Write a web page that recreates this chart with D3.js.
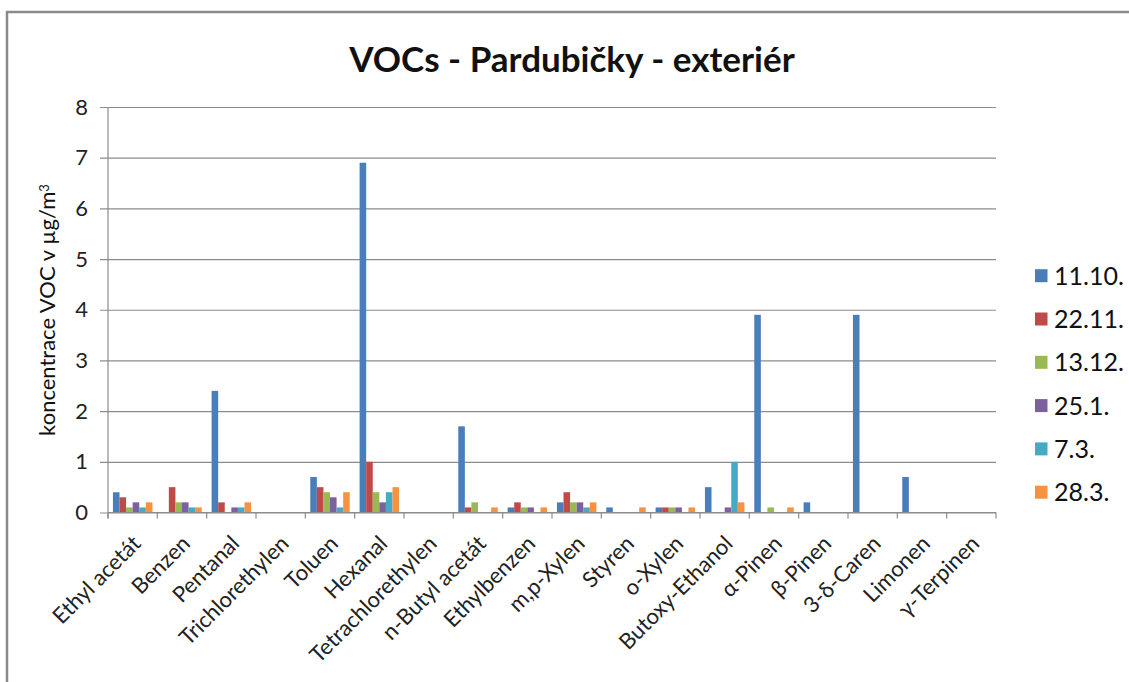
<!DOCTYPE html>
<html>
<head>
<meta charset="utf-8">
<script src="https://cdn.jsdelivr.net/npm/d3@7"></script>
<style>
  html, body { margin: 0; padding: 0; background: #fff; }
  svg { display: block; font-family: Lato, "Open Sans", sans-serif; }
</style>
</head>
<body>
<svg id="chart" width="1129" height="682"></svg>
<script>
// Compounds on the x axis
const categories = [
  "Ethyl acetát", "Benzen", "Pentanal", "Trichlorethylen", "Toluen", "Hexanal",
  "Tetrachlorethylen", "n-Butyl acetát", "Ethylbenzen", "m,p-Xylen", "Styren",
  "o-Xylen", "Butoxy-Ethanol", "α-Pinen", "β-Pinen", "3-δ-Caren", "Limonen", "γ-Terpinen"
];

// Sampling dates (legend)
const seriesNames = ["11.10.", "22.11.", "13.12.", "25.1.", "7.3.", "28.3."];

// Concentrations in µg/m³ per sampling date, in category order
const s1110 = [0.4, 0, 2.4, 0, 0.7, 6.9, 0, 1.7, 0.1, 0.2, 0.1, 0.1, 0.5, 3.9, 0.2, 3.9, 0.7, 0];
const s2211 = [0.3, 0.5, 0.2, 0, 0.5, 1.0, 0, 0.1, 0.2, 0.4, 0, 0.1, 0, 0, 0, 0, 0, 0];
const s1312 = [0.1, 0.2, 0, 0, 0.4, 0.4, 0, 0.2, 0.1, 0.2, 0, 0.1, 0, 0.1, 0, 0, 0, 0];
const s251  = [0.2, 0.2, 0.1, 0, 0.3, 0.2, 0, 0, 0.1, 0.2, 0, 0.1, 0.1, 0, 0, 0, 0, 0];
const s73   = [0.1, 0.1, 0.1, 0, 0.1, 0.4, 0, 0, 0, 0.1, 0, 0, 1.0, 0, 0, 0, 0, 0];
const s283  = [0.2, 0.1, 0.2, 0, 0.4, 0.5, 0, 0.1, 0.1, 0.2, 0.1, 0.1, 0.2, 0.1, 0, 0, 0, 0];
const seriesValues = [s1110, s2211, s1312, s251, s73, s283];

const yTicks = [0, 1, 2, 3, 4, 5, 6, 7, 8];

const colors = ["#4A7EBB", "#BE4B48", "#98B954", "#7D60A0", "#46AAC5", "#F69240"];

const svg = d3.select("#chart");

// Outer chart frame
svg.append("rect")
  .attr("x", 7).attr("y", 12)
  .attr("width", 1140).attr("height", 700)
  .attr("fill", "none").attr("stroke", "#8a8a8a").attr("stroke-width", 2.5);

const plot = { left: 108, right: 996, top: 107, bottom: 512.5 };

const xOuter = d3.scaleBand().domain(categories).range([plot.left, plot.right]);
const groupWidth = xOuter.bandwidth() * 0.8;
const xSub = d3.scaleBand().domain(seriesNames).range([0, groupWidth]);
const y = d3.scaleLinear().domain([0, 8]).range([plot.bottom, plot.top]);

// Horizontal gridlines with small ticks on the left
const yAxis = d3.axisLeft(y).tickValues(yTicks).tickSize(-(plot.right - plot.left)).tickSizeOuter(0).tickPadding(20);
const gy = svg.append("g").attr("transform", `translate(${plot.left},0)`).call(yAxis);
gy.select(".domain").remove();
gy.selectAll(".tick line").attr("stroke", "#8c8c8c").attr("stroke-width", 1.2).attr("x1", -8);
gy.selectAll(".tick text").attr("font-size", 22).attr("fill", "#222").attr("font-family", "Lato, sans-serif");

// Vertical axis line
svg.append("line")
  .attr("x1", plot.left).attr("x2", plot.left)
  .attr("y1", plot.top).attr("y2", plot.bottom + 6)
  .attr("stroke", "#8c8c8c").attr("stroke-width", 1.2);

// Bars
const groups = svg.append("g").selectAll("g")
  .data(categories)
  .join("g")
  .attr("transform", d => `translate(${xOuter(d) + (xOuter.bandwidth() - groupWidth) / 2},0)`);

groups.selectAll("rect")
  .data((c, i) => seriesNames.map((s, k) => ({ s, k, v: seriesValues[k][i] })))
  .join("rect")
  .filter(d => d.v > 0)
  .attr("x", d => xSub(d.s))
  .attr("width", xSub.bandwidth())
  .attr("y", d => y(d.v))
  .attr("height", d => y(0) - y(d.v))
  .attr("fill", d => colors[d.k]);

// Category axis with tick marks between categories
const gx = svg.append("g");
gx.append("line")
  .attr("x1", plot.left).attr("x2", plot.right)
  .attr("y1", plot.bottom).attr("y2", plot.bottom)
  .attr("stroke", "#8c8c8c").attr("stroke-width", 1.2);
const boundaries = categories.map(c => xOuter(c)).concat([plot.right]);
gx.selectAll("line.tk")
  .data(boundaries)
  .join("line")
  .attr("class", "tk")
  .attr("x1", d => d).attr("x2", d => d)
  .attr("y1", plot.bottom).attr("y2", plot.bottom + 6)
  .attr("stroke", "#8c8c8c").attr("stroke-width", 1.2);

gx.selectAll("text")
  .data(categories)
  .join("text")
  .attr("transform", d => `translate(${xOuter(d) + xOuter.bandwidth() / 2 + 4},${plot.bottom + 27}) rotate(-45)`)
  .attr("text-anchor", "end")
  .attr("dy", "0.35em")
  .attr("font-size", 22)
  .attr("fill", "#222")
  .text(d => d);

// Title
svg.append("text")
  .attr("x", 572).attr("y", 72)
  .attr("text-anchor", "middle")
  .attr("font-size", 35).attr("font-weight", "bold")
  .attr("fill", "#111")
  .text("VOCs - Pardubičky - exteriér");

// Y axis title
const yt = svg.append("text")
  .attr("transform", "translate(55,310) rotate(-90)")
  .attr("text-anchor", "middle")
  .attr("font-size", 22)
  .attr("fill", "#111");
yt.append("tspan").text("koncentrace VOC v µg/m");
yt.append("tspan").attr("dy", "-0.45em").attr("font-size", 13).text("3");

// Legend
const legend = svg.append("g").selectAll("g")
  .data(seriesNames)
  .join("g")
  .attr("transform", (d, i) => `translate(1035,${275.7 + i * 43.3})`);
legend.append("rect")
  .attr("x", 0).attr("y", -6.5).attr("width", 12.5).attr("height", 13)
  .attr("fill", (d, i) => colors[i]);
legend.append("text")
  .attr("x", 19).attr("y", 0).attr("dy", "0.36em")
  .attr("font-size", 25).attr("fill", "#111")
  .text(d => d);
</script>
</body>
</html>
